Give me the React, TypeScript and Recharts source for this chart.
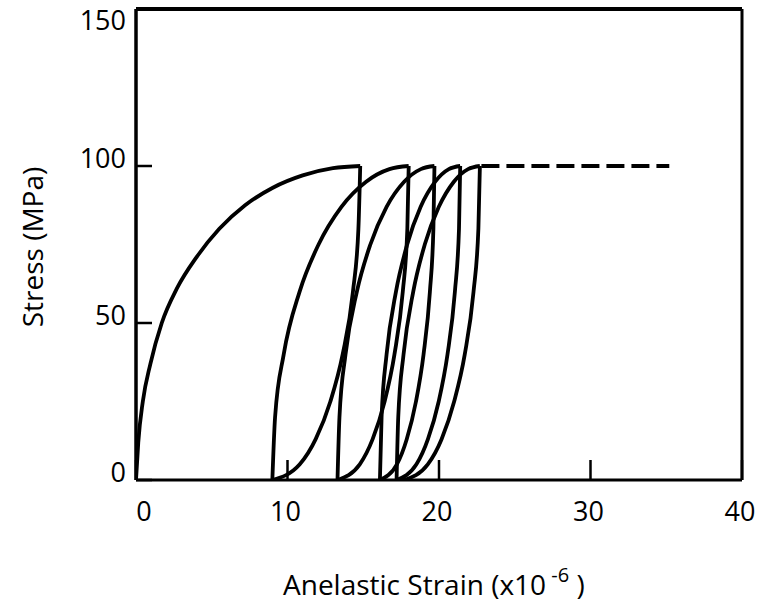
import React from 'react';
import { LineChart, Line, XAxis, YAxis, ReferenceLine } from 'recharts';

// Ticks
const xTicks = [0, 10, 20, 30, 40];
const yTicks = [0, 50, 100, 150];

// Virgin loading curve (strain x1e-6, stress MPa)
const load0 = [
  { x: 0, y: 0 }, { x: 0.15, y: 12 }, { x: 0.45, y: 25 }, { x: 0.95, y: 37 },
  { x: 1.7, y: 50 }, { x: 2.7, y: 61 }, { x: 4.0, y: 71 }, { x: 5.5, y: 80 },
  { x: 7.2, y: 87.5 }, { x: 9.0, y: 93 }, { x: 11.0, y: 97 }, { x: 13.0, y: 99.3 },
  { x: 14.8, y: 100 },
];

// Unloading branches (from top vertex down to bottom vertex)
const unload1 = [
  { x: 9.0, y: 0 }, { x: 10.81, y: 5 }, { x: 11.86, y: 13 }, { x: 12.83, y: 25 },
  { x: 13.64, y: 40 }, { x: 14.32, y: 60 }, { x: 14.68, y: 80 }, { x: 14.8, y: 100 },
];
const unload2 = [
  { x: 13.3, y: 0 }, { x: 14.77, y: 5 }, { x: 15.62, y: 13 }, { x: 16.41, y: 25 },
  { x: 17.06, y: 40 }, { x: 17.61, y: 60 }, { x: 17.91, y: 80 }, { x: 18.0, y: 100 },
];
const unload3 = [
  { x: 16.1, y: 0 }, { x: 17.22, y: 5 }, { x: 17.87, y: 13 }, { x: 18.48, y: 25 },
  { x: 18.98, y: 40 }, { x: 19.4, y: 60 }, { x: 19.63, y: 80 }, { x: 19.7, y: 100 },
];
const unload4 = [
  { x: 17.2, y: 0 }, { x: 18.51, y: 5 }, { x: 19.27, y: 13 }, { x: 19.98, y: 25 },
  { x: 20.56, y: 40 }, { x: 21.05, y: 60 }, { x: 21.32, y: 80 }, { x: 21.4, y: 100 },
];
const unload5 = [
  { x: 17.7, y: 0 }, { x: 19.26, y: 5 }, { x: 20.17, y: 13 }, { x: 21.0, y: 25 },
  { x: 21.7, y: 40 }, { x: 22.28, y: 60 }, { x: 22.6, y: 80 }, { x: 22.7, y: 100 },
];

// Reloading branches (from bottom vertex up to next top vertex)
const reload1 = [
  { x: 9.0, y: 0 }, { x: 9.18, y: 20 }, { x: 9.75, y: 40 }, { x: 10.8, y: 60 },
  { x: 12.05, y: 75 }, { x: 13.56, y: 87 }, { x: 15.19, y: 95 }, { x: 16.73, y: 99 }, { x: 18.0, y: 100 },
];
const reload2 = [
  { x: 13.3, y: 0 }, { x: 13.43, y: 20 }, { x: 13.83, y: 40 }, { x: 14.58, y: 60 },
  { x: 15.47, y: 75 }, { x: 16.54, y: 87 }, { x: 17.7, y: 95 }, { x: 18.8, y: 99 }, { x: 19.7, y: 100 },
];
const reload3 = [
  { x: 16.1, y: 0 }, { x: 16.21, y: 20 }, { x: 16.54, y: 40 }, { x: 17.16, y: 60 },
  { x: 17.9, y: 75 }, { x: 18.79, y: 87 }, { x: 19.75, y: 95 }, { x: 20.65, y: 99 }, { x: 21.4, y: 100 },
];
const reload4 = [
  { x: 17.2, y: 0 }, { x: 17.31, y: 20 }, { x: 17.66, y: 40 }, { x: 18.3, y: 60 },
  { x: 19.06, y: 75 }, { x: 19.99, y: 87 }, { x: 20.98, y: 95 }, { x: 21.92, y: 99 }, { x: 22.7, y: 100 },
];

// Extrapolated plateau (dashed)
const plateau = [{ x: 22.8, y: 100 }, { x: 35.2, y: 100 }];

const solidCurves = [load0, unload1, unload2, unload3, unload4, unload5, reload1, reload2, reload3, reload4];

const FONT = '"Open Sans", "DejaVu Sans", sans-serif';

const XTick = (props: any) => {
  const { x, y, payload } = props;
  const shift = payload.value === 0 ? 8 : -2;
  return (
    <text x={x + shift} y={y} dy="0.71em" textAnchor="middle" fontSize={27} fontFamily={FONT} fill="#000">
      {payload.value}
    </text>
  );
};

const YTick = (props: any) => {
  const { x, y, payload } = props;
  const shift = payload.value === 150 ? 11 : -8;
  return (
    <text x={x} y={y + shift} dy="0.355em" textAnchor="end" fontSize={27} fontFamily={FONT} fill="#000">
      {payload.value}
    </text>
  );
};

const XTitle = () => (
  <text x={283} y={595} fontSize={28} fontFamily={FONT} fill="#000">
    Anelastic Strain (x10
    <tspan dy={-13} fontSize={20}> -6</tspan>
    <tspan dy={13} fontSize={28}> )</tspan>
  </text>
);

const YTitle = () => (
  <text
    x={43}
    y={247}
    transform="rotate(-90, 43, 247)"
    textAnchor="middle"
    fontSize={28}
    fontFamily={FONT}
    fill="#000"
  >
    Stress (MPa)
  </text>
);

export default function App() {
  return (
    <div style={{ position: 'fixed', left: 0, top: 0, background: '#fff' }}>
      <LineChart width={758} height={602} margin={{ top: 9, right: 16, bottom: 0, left: 0 }}>
        <XAxis
          dataKey="x"
          type="number"
          domain={[0, 40]}
          ticks={xTicks}
          height={122}
          allowDataOverflow
          axisLine={{ stroke: '#000', strokeWidth: 3 }}
          tickLine={{ stroke: '#000', strokeWidth: 2.5 }}
          tickSize={-20}
          tickMargin={42}
          tick={<XTick />}
          label={<XTitle />}
        />
        <YAxis
          type="number"
          domain={[0, 150]}
          ticks={yTicks}
          width={136}
          allowDataOverflow
          axisLine={{ stroke: '#000', strokeWidth: 3.5 }}
          tickLine={{ stroke: '#000', strokeWidth: 2.5 }}
          tickSize={-16}
          tickMargin={26}
          tick={<YTick />}
          label={<YTitle />}
        />
        <ReferenceLine y={150} stroke="#000" strokeWidth={4} />
        <ReferenceLine x={40} stroke="#000" strokeWidth={3} />
        {solidCurves.map((d, i) => (
          <Line
            key={i}
            data={d}
            dataKey="y"
            type="monotone"
            stroke="#000"
            strokeWidth={3.8}
            dot={false}
            activeDot={false}
            isAnimationActive={false}
          />
        ))}
        <Line
          data={plateau}
          dataKey="y"
          type="linear"
          stroke="#000"
          strokeWidth={4}
          strokeDasharray="18 7"
          dot={false}
          activeDot={false}
          isAnimationActive={false}
        />
      </LineChart>
    </div>
  );
}
